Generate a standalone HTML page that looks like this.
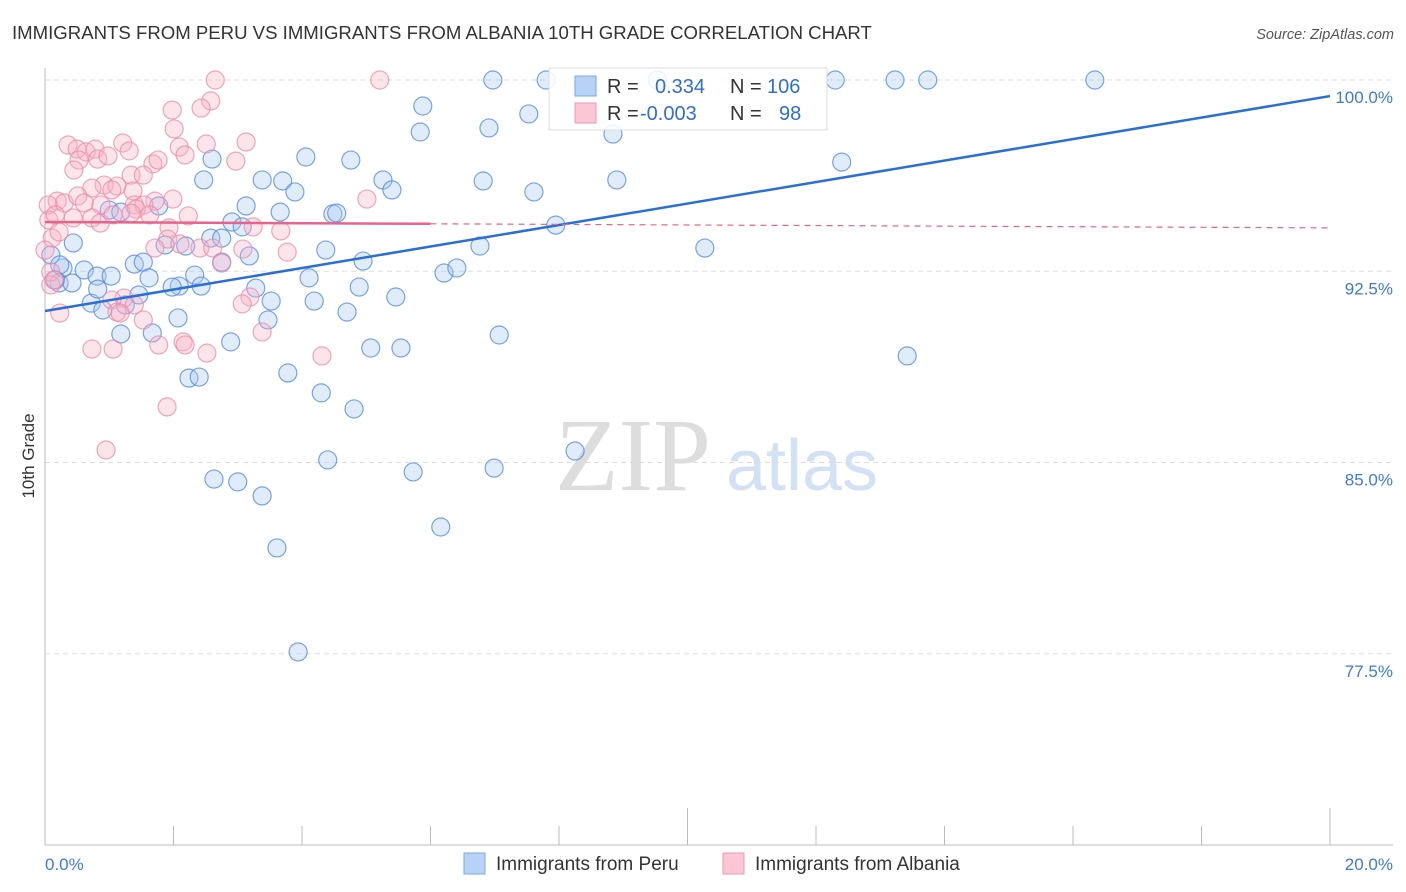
<!DOCTYPE html>
<html><head><meta charset="utf-8"><style>
body{margin:0;background:#fff;font-family:"Liberation Sans",sans-serif;}
svg{display:block}
</style></head><body>
<svg width="1406" height="892" xmlns="http://www.w3.org/2000/svg">
<text x="12" y="39" font-size="18.6" fill="#333">IMMIGRANTS FROM PERU VS IMMIGRANTS FROM ALBANIA 10TH GRADE CORRELATION CHART</text>
<text x="1394" y="39" font-size="14.5" fill="#555" font-style="italic" text-anchor="end">Source: ZipAtlas.com</text>
<text x="34" y="456" font-size="17" fill="#333" transform="rotate(-90 34 456)" text-anchor="middle">10th Grade</text>
<g><text x="633" y="490" font-family="Liberation Serif,serif" font-size="104" fill="#ddd" text-anchor="middle">ZIP</text><text x="802" y="490" font-size="72" fill="#d3e1f4" text-anchor="middle">atlas</text></g>
<g id="grid"></g><g id="axes"></g><g id="pts"></g><g id="trends"></g>
<g>
<rect x="549" y="68" width="278" height="62" fill="#fff" fill-opacity="0.85" stroke="#ddd"/>
<rect x="575" y="76" width="21" height="20" fill="#b7d2f5" stroke="#7aa8e6"/>
<rect x="575" y="103" width="21" height="20" fill="#fbc7d6" stroke="#ee9ab5"/>
<text x="607" y="93" font-size="20" fill="#333">R = </text><text x="655" y="93" font-size="20" fill="#2f6fd0">0.334</text>
<text x="730" y="93" font-size="20" fill="#333">N = </text><text x="767" y="93" font-size="20" fill="#2f6fd0">106</text>
<text x="607" y="120" font-size="20" fill="#333">R = </text><text x="640" y="120" font-size="20" fill="#2f6fd0">-0.003</text>
<text x="730" y="120" font-size="20" fill="#333">N = </text><text x="779" y="120" font-size="20" fill="#2f6fd0">98</text>
</g>
<g>
<rect x="464" y="853" width="21" height="21" fill="#b7d2f5" stroke="#7aa8e6"/>
<text x="496" y="870" font-size="19" fill="#333">Immigrants from Peru</text>
<rect x="723" y="853" width="21" height="21" fill="#fbc7d6" stroke="#ee9ab5"/>
<text x="755" y="870" font-size="19" fill="#333">Immigrants from Albania</text>
</g>
</svg>
<script>
const yTicks=[100,92.5,85,77.5];
const yTickLabels=["100.0%","92.5%","85.0%","77.5%"];
const xTickLabels=["0.0%","20.0%"];
const peruX=[6.97,7.80,9.53,12.30,13.23,13.74,16.34,5.88,7.53,5.84,6.91,8.84,2.60,4.06,4.76,12.40,2.47,3.38,3.70,5.26,6.82,8.90,3.89,5.40,7.61,3.13,3.66,1.00,1.77,4.48,4.54,2.91,7.95,3.07,1.18,0.44,1.87,2.19,2.58,2.75,4.37,6.77,10.27,0.09,0.28,0.61,0.81,0.22,0.42,1.03,1.39,1.53,1.62,2.75,3.18,4.95,4.11,2.33,2.09,1.98,2.43,3.28,6.21,6.41,4.89,5.46,1.46,0.72,0.82,0.90,1.25,3.52,4.19,2.07,4.70,3.47,7.07,1.18,1.67,2.89,5.07,5.54,13.42,2.24,2.40,3.78,4.30,4.81,8.25,4.40,5.73,6.99,2.63,3.00,3.38,6.16,3.61,3.94,0.23,0.16];
const peruY=[100,100,100,100,100,100,100,98.98,98.67,97.96,98.12,97.88,96.90,96.98,96.86,96.78,96.08,96.08,96.04,96.08,96.04,96.08,95.61,95.69,95.61,95.06,94.82,94.90,95.06,94.75,94.78,94.43,94.31,94.24,94.82,93.61,93.53,93.49,93.80,93.80,93.33,93.49,93.41,93.14,92.63,92.55,92.31,92.04,92.04,92.31,92.78,92.86,92.24,92.86,93.10,92.90,92.24,92.35,91.92,91.88,91.92,91.84,92.43,92.63,91.88,91.49,91.57,91.25,91.80,90.98,91.18,91.33,91.33,90.67,90.90,90.59,90.00,90.04,90.08,89.73,89.49,89.49,89.18,88.31,88.35,88.51,87.73,87.10,85.45,85.10,84.63,84.78,84.35,84.24,83.69,82.47,81.65,77.57,92.75,92.16];
const albX=[2.65,5.21,2.58,2.43,1.98,2.01,2.09,2.18,3.13,2.51,1.21,1.31,0.36,0.50,0.64,0.78,0.82,0.98,0.53,0.45,2.97,1.68,1.76,1.34,1.53,0.92,0.73,1.12,1.37,1.04,1.99,1.71,1.39,1.54,0.19,0.30,0.51,0.61,0.87,1.42,0.05,0.06,0.16,0.44,0.73,0.86,1.06,1.34,1.63,1.93,2.23,3.24,3.67,5.01,1.91,2.10,1.71,2.41,2.61,3.08,3.77,2.75,0.09,0.09,0.14,1.23,1.04,1.12,1.39,1.53,1.77,2.15,2.18,2.52,3.19,3.07,3.38,0.73,1.06,0.23,1.17,4.31,1.90,0.95,0.11,0.22,0.00];
const albY=[100,100,99.18,98.90,98.82,98.08,97.37,97.06,97.57,97.49,97.53,97.22,97.45,97.29,97.18,97.29,96.90,97.02,96.86,96.47,96.82,96.71,96.86,96.27,96.27,95.88,95.76,95.84,95.65,95.69,95.33,95.25,95.10,95.10,95.25,95.18,95.45,95.18,95.10,94.94,95.10,94.51,94.71,94.59,94.59,94.39,94.71,94.78,94.71,94.20,94.67,94.24,94.08,95.33,93.76,93.57,93.41,93.41,93.41,93.37,93.25,92.82,92.47,91.96,92.16,91.45,91.37,90.90,91.18,90.59,89.61,89.73,89.61,89.29,91.49,91.22,90.12,89.45,89.45,90.86,90.86,89.18,87.18,85.49,93.80,94.04,93.33];
const peruTrend=[90.94,99.37];
const albTrend=[94.43,94.2];
const NS="http://www.w3.org/2000/svg";
const xs=v=>45+v*64.25;
const ys=v=>80+(100-v)*25.5;
function mk(tag,attrs,parent){const e=document.createElementNS(NS,tag);for(const k in attrs)e.setAttribute(k,attrs[k]);parent.appendChild(e);return e;}
const grid=document.getElementById('grid'),axes=document.getElementById('axes'),pts=document.getElementById('pts'),tr=document.getElementById('trends');
yTicks.forEach((t,i)=>{
 const l=mk('line',{x1:45,x2:1393,y1:ys(t),y2:ys(t),stroke:'#ddd','stroke-dasharray':'5,4'},grid);
 
 
 const tx=mk('text',{x:1393,y:ys(t)+23,'font-size':17,fill:'#3f7bd6','text-anchor':'end'},axes);
 tx.textContent=yTickLabels[i];
 
 
});
mk('line',{x1:45,x2:45,y1:68,y2:845,stroke:'#bbb'},axes);
mk('line',{x1:45,x2:1393,y1:845,y2:845,stroke:'#bbb'},axes);
for(let v=0;v<=20;v+=2){
 const tk=mk('line',{x1:xs(v),x2:xs(v),y1:(v%10===0&&v>0)?808:826,y2:845,stroke:'#bbb'},axes);
 
 
}
[[0,'start'],[20,'end']].forEach((p,i)=>{
 const tx=mk('text',{x:i?1393:45,y:870,'font-size':17,fill:'#3f7bd6','text-anchor':p[1]},axes);
 tx.textContent=xTickLabels[i];
 
 
});
function series(X,Y,fill,stroke,name){
 X.forEach((x,i)=>{
  const c=mk('circle',{cx:xs(x),cy:ys(Y[i]),r:9,fill:fill,'fill-opacity':0.35,stroke:stroke,'stroke-opacity':0.75,'stroke-width':1.2},pts);
  
  
 });
}
series(peruX,peruY,'#a9c8f2','#4f87da','point-peru');
series(albX,albY,'#f7b3c7','#e98aa8','point-albania');
const t1=mk('line',{x1:xs(0),y1:ys(peruTrend[0]),x2:xs(20),y2:ys(peruTrend[1]),stroke:'#2a6fd6','stroke-width':2.5},tr);


const mid=albTrend[0]+(albTrend[1]-albTrend[0])*0.3;
const t2=mk('line',{x1:xs(0),y1:ys(albTrend[0]),x2:xs(6),y2:ys(mid),stroke:'#e8638c','stroke-width':2.5},tr);


const t3=mk('line',{x1:xs(6),y1:ys(mid),x2:xs(20),y2:ys(albTrend[1]),stroke:'#e8638c','stroke-width':1.2,'stroke-dasharray':'6,5'},tr);


</script>
</body></html>
